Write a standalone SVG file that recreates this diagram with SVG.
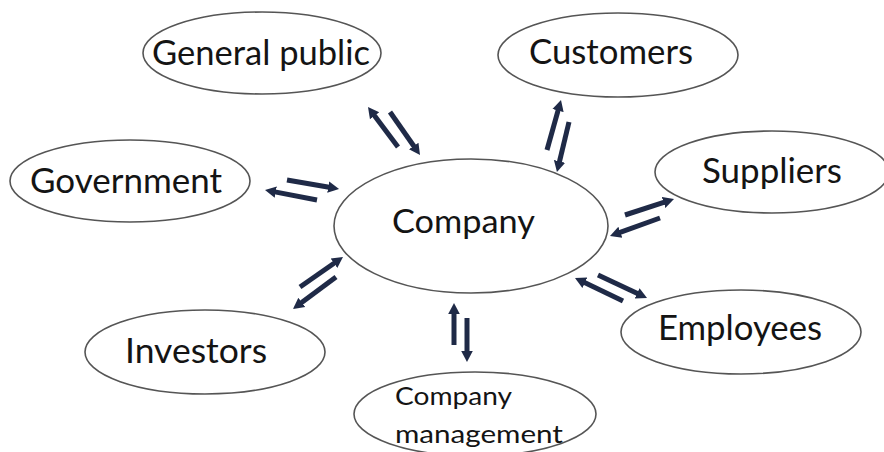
<svg xmlns="http://www.w3.org/2000/svg" width="884" height="452" viewBox="0 0 884 452">
  <style>
    .node ellipse { fill: #ffffff; stroke: #555555; stroke-width: 1.6; }
    .node text { font-family: Lato, "Liberation Sans", sans-serif; fill: #141414; }
    .big { font-size: 35px; }
    .mid { font-size: 32px; }
    .small { font-size: 25px; }
    .arrow { stroke: #1f2a47; stroke-width: 5; fill: none; marker-end: url(#head); }
  </style>
  <defs>
    <marker id="head" markerUnits="userSpaceOnUse" markerWidth="14" markerHeight="14" refX="1" refY="0" viewBox="0 -7 14 14" orient="auto">
      <path d="M0,-5.8 L11,0 L0,5.8 z" fill="#1f2a47"/>
    </marker>
  </defs>
  <rect width="884" height="452" fill="#ffffff"/>

  <g id="general-public" class="node">
    <ellipse cx="262" cy="53" rx="119" ry="41"/>
    <text class="big" x="152" y="65" textLength="218" lengthAdjust="spacingAndGlyphs">General public</text>
  </g>
  <g id="customers" class="node">
    <ellipse cx="618" cy="55" rx="120" ry="42"/>
    <text class="big" x="529" y="64" textLength="164" lengthAdjust="spacingAndGlyphs">Customers</text>
  </g>
  <g id="government" class="node">
    <ellipse cx="130" cy="181" rx="120" ry="41"/>
    <text class="big" x="30" y="193" textLength="192" lengthAdjust="spacingAndGlyphs">Government</text>
  </g>
  <g id="suppliers" class="node">
    <ellipse cx="772" cy="172" rx="117" ry="41"/>
    <text class="big" x="702" y="183" textLength="140" lengthAdjust="spacingAndGlyphs">Suppliers</text>
  </g>
  <g id="company" class="node">
    <ellipse cx="471" cy="226" rx="137" ry="67"/>
    <text class="mid" x="392" y="233" textLength="143" lengthAdjust="spacingAndGlyphs">Company</text>
  </g>
  <g id="employees" class="node">
    <ellipse cx="741" cy="332" rx="120" ry="42"/>
    <text class="big" x="658" y="340" textLength="164" lengthAdjust="spacingAndGlyphs">Employees</text>
  </g>
  <g id="investors" class="node">
    <ellipse cx="205" cy="352" rx="120" ry="42"/>
    <text class="big" x="125" y="363" textLength="142" lengthAdjust="spacingAndGlyphs">Investors</text>
  </g>
  <g id="company-management" class="node">
    <ellipse cx="475" cy="414" rx="121" ry="42"/>
    <text class="small" x="395" y="405" textLength="117" lengthAdjust="spacingAndGlyphs">Company</text>
    <text class="small" x="395" y="443" textLength="168" lengthAdjust="spacingAndGlyphs">management</text>
  </g>

  <g id="connectors">
    <!-- general public -->
    <line class="arrow" x1="398" y1="147" x2="374" y2="115"/>
    <line class="arrow" x1="390" y1="112" x2="414.3" y2="146.8"/>
    <!-- customers -->
    <line class="arrow" x1="547" y1="150" x2="558.3" y2="109.6"/>
    <line class="arrow" x1="569" y1="122" x2="559.3" y2="162.3"/>
    <!-- government -->
    <line class="arrow" x1="287" y1="180" x2="329.2" y2="187.3"/>
    <line class="arrow" x1="317" y1="200" x2="274.8" y2="191.9"/>
    <!-- investors -->
    <line class="arrow" x1="300" y1="287" x2="334.8" y2="262.7"/>
    <line class="arrow" x1="336" y1="277" x2="301" y2="303"/>
    <!-- suppliers -->
    <line class="arrow" x1="625" y1="215" x2="664.5" y2="202.1"/>
    <line class="arrow" x1="660" y1="218" x2="619.4" y2="232.6"/>
    <!-- employees -->
    <line class="arrow" x1="623" y1="301" x2="584" y2="282.3"/>
    <line class="arrow" x1="598" y1="275" x2="638" y2="293.8"/>
    <!-- company management -->
    <line class="arrow" x1="454" y1="345" x2="454" y2="313"/>
    <line class="arrow" x1="467" y1="318" x2="467" y2="352"/>
  </g>
</svg>
